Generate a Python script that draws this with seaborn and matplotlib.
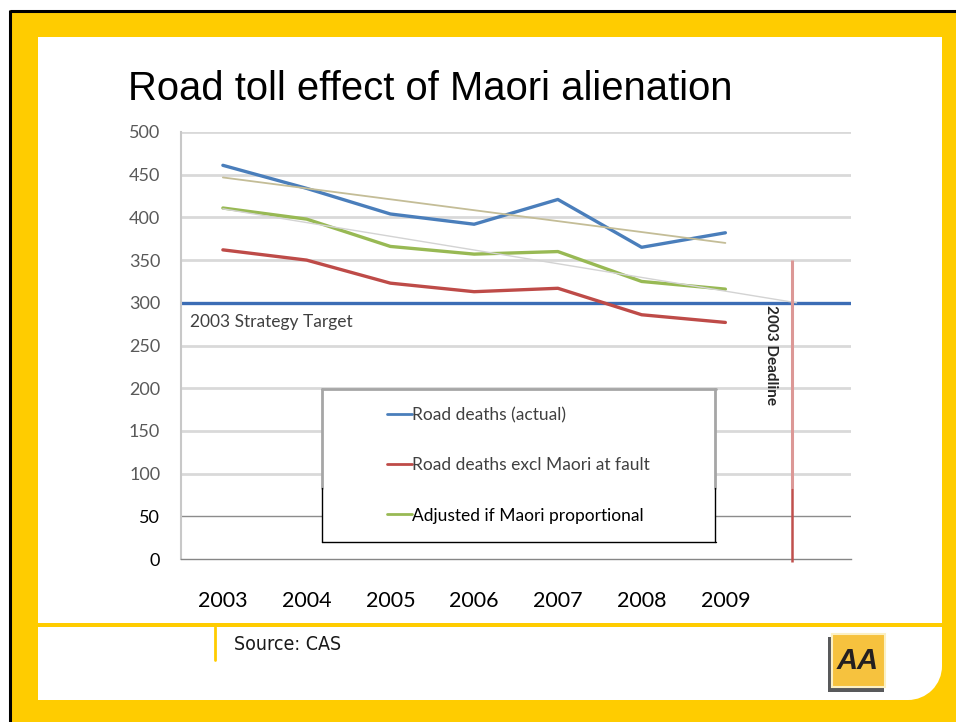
import numpy as np
import pandas as pd
import matplotlib
matplotlib.use("Agg")
import matplotlib.pyplot as plt
import seaborn as sns
from matplotlib.patches import Rectangle, Circle
from matplotlib.lines import Line2D

# ---------------- data ----------------
years = ["2003", "2004", "2005", "2006", "2007", "2008", "2009"]
actual = [461, 434, 404, 392, 421, 365, 382]
excl_maori = [362, 350, 323, 313, 317, 286, 277]
adjusted = [411, 398, 366, 357, 360, 325, 316]
series_names = ["Road deaths (actual)",
                "Road deaths excl Maori at fault",
                "Adjusted if Maori proportional"]
series_colors = ["#4a7ebb", "#be4b48", "#98b954"]
target_value = 300
target_label = "2003 Strategy Target"
deadline_pos = 6.79          # category position of the deadline marker
deadline_top = 350
deadline_label = "2003 Deadline"
adj_trend_pos = [0, 6.85]    # light grey trend toward the target
adj_trend_vals = [410, 300]
y_ticks = list(range(0, 501, 50))
n_slots = 8                  # 7 years + 1 empty slot on the category axis
title = "Road toll effect of Maori alienation"
source = "Source: CAS"

# ---------------- style ----------------
sns.set_style("white")
plt.rcParams["font.family"] = ["Lato", "DejaVu Sans"]

W, H = 956, 722
fig = plt.figure(figsize=(W / 100, H / 100), dpi=100)
fig.patch.set_facecolor("white")

# background slide frame
bg = fig.add_axes([0, 0, 1, 1], zorder=-1)
bg.set_xlim(0, W); bg.set_ylim(H, 0); bg.axis("off")
YEL = "#ffcc00"
bg.add_patch(Rectangle((10, 10), W - 10, H - 10, fc=YEL, ec="none"))
bg.plot([10, W], [10.5, 10.5], color="black", lw=2.2, solid_capstyle="butt")
bg.plot([10.5, 10.5], [10, H], color="black", lw=2.2, solid_capstyle="butt")
bg.add_patch(Rectangle((38, 37), 904, 586, fc="white", ec="none"))
bg.add_patch(Rectangle((38, 627), 904, 39, fc="white", ec="none"))
bg.add_patch(Rectangle((38, 627), 870, 73, fc="white", ec="none"))
bg.add_patch(Circle((908, 666), 34, fc="white", ec="none"))
bg.plot([215, 215], [627, 660], color=YEL, lw=2)
bg.text(234, 645, source, ha="left", va="center", fontsize=14,
        family=["DejaVu Sans"], fontstretch="condensed", color="#1a1a1a")
# AA logo
bg.add_patch(Rectangle((828, 637), 56, 55, fc="#58595b", ec="none"))
bg.add_patch(Rectangle((832, 634), 53, 53, fc="#f6c23e", ec="#fbf0c4", lw=1.5))
bg.text(858, 661, "AA", ha="center", va="center", fontsize=21,
        fontweight="bold", fontstyle="italic", color="#231f20",
        family=["Liberation Sans", "DejaVu Sans"])

fig.text(128 / W, 1 - 100 / H, title, ha="left", va="baseline",
         fontsize=28.8, family=["Liberation Sans", "DejaVu Sans"], color="black")

# ---------------- main chart ----------------
ax = fig.add_axes([181 / W, (H - 559) / H, 670 / W, 427 / H])
ax.set_facecolor("white")
pos = np.arange(len(years))
df = pd.DataFrame({
    "pos": np.concatenate([pos, pos, pos]),
    "value": actual + excl_maori + adjusted,
    "series": np.repeat(series_names, len(years)),
})
palette = dict(zip(series_names, series_colors))

for v in y_ticks[1:]:
    if v >= 100:
        ax.axhline(v, color="#d9d9d9", lw=2, zorder=0.5)
    else:
        ax.axhline(v, color="#8c8c8c", lw=1, zorder=0.5)

ax.axhline(target_value, color="#3c6db5", lw=2.4, zorder=1)

sns.lineplot(data=df, x="pos", y="value", hue="series", palette=palette,
             hue_order=series_names, lw=2.4, legend=False, sort=False,
             ax=ax, zorder=2)
sns.regplot(x=pos, y=np.array(actual), scatter=False, ci=None, truncate=True,
            line_kws=dict(color="#c4bd97", lw=1.3, zorder=3), ax=ax)
sns.lineplot(x=adj_trend_pos, y=adj_trend_vals, color="#d3d3d3", lw=1.0,
             ax=ax, zorder=3)

ax.plot([deadline_pos, deadline_pos], [deadline_top, 83], color="#dc9896",
        lw=2.2, zorder=3, solid_capstyle="butt")
ax.plot([deadline_pos, deadline_pos], [83, -3], color="#c0504d",
        lw=1.8, zorder=3, solid_capstyle="butt", clip_on=False)

ax.text(-0.39, 277.5, target_label, ha="left", va="center", fontsize=12.5,
        color="#404040")
ax.text(deadline_pos - 0.25, 297, deadline_label, rotation=270, ha="center",
        va="top", fontsize=11, fontweight="bold", color="#262626")

ax.set_xlim(-0.5, n_slots - 0.5)
ax.set_ylim(0, 500)
ax.set_xlabel(""); ax.set_ylabel("")
ax.set_xticks(pos)
ax.set_xticklabels(years)
ax.set_xticks(np.arange(-0.5, n_slots, 1), minor=True)
ax.tick_params(axis="x", which="major", length=0, pad=23, labelsize=15.5,
               labelcolor="black")
ax.tick_params(axis="x", which="minor", length=6, color="#868686",
               direction="out", width=1)
ax.set_yticks(y_ticks)
ax.set_yticklabels([str(v) for v in y_ticks])
ax.tick_params(axis="y", length=6, color="#bfbfbf", pad=9, labelsize=13,
               direction="out")
for lab, v in zip(ax.get_yticklabels(), y_ticks):
    lab.set_color("black" if v < 100 else "#595959")
for s in ["top", "right"]:
    ax.spines[s].set_visible(False)
ax.spines["left"].set_color("#c8c8c8"); ax.spines["left"].set_linewidth(1.5)
ax.spines["bottom"].set_color("#868686"); ax.spines["bottom"].set_linewidth(1)

# ---------------- legend ----------------
ov = fig.add_axes([0, 0, 1, 1], zorder=3)
ov.set_xlim(0, W); ov.set_ylim(H, 0); ov.axis("off")
ov.patch.set_alpha(0)
ov.add_patch(Rectangle((322, 389), 394, 153, fc="white", ec="none"))
ov.plot([322, 716], [389, 389], color="#a6a6a6", lw=2)
ov.plot([322.5, 322.5], [389, 488], color="#a6a6a6", lw=2)
ov.plot([715.5, 715.5], [389, 488], color="#a6a6a6", lw=2)
ov.plot([322.5, 322.5], [488, 542], color="black", lw=1)
ov.plot([715.5, 715.5], [488, 542], color="black", lw=1)
ov.plot([322, 716], [541.5, 541.5], color="black", lw=1)

handles = [Line2D([], [], color=c, lw=2) for c in series_colors]
leg = ov.legend(handles, series_names, loc="upper left",
                bbox_to_anchor=(387, 407), bbox_transform=ov.transData,
                frameon=False, fontsize=12.5, handlelength=1.44,
                handletextpad=0.0, borderpad=0, borderaxespad=0,
                labelspacing=1.97)
for t, c in zip(leg.get_texts(), ["#404040", "#404040", "black"]):
    t.set_color(c)

fig.savefig("out.png", dpi=100, facecolor="white")
